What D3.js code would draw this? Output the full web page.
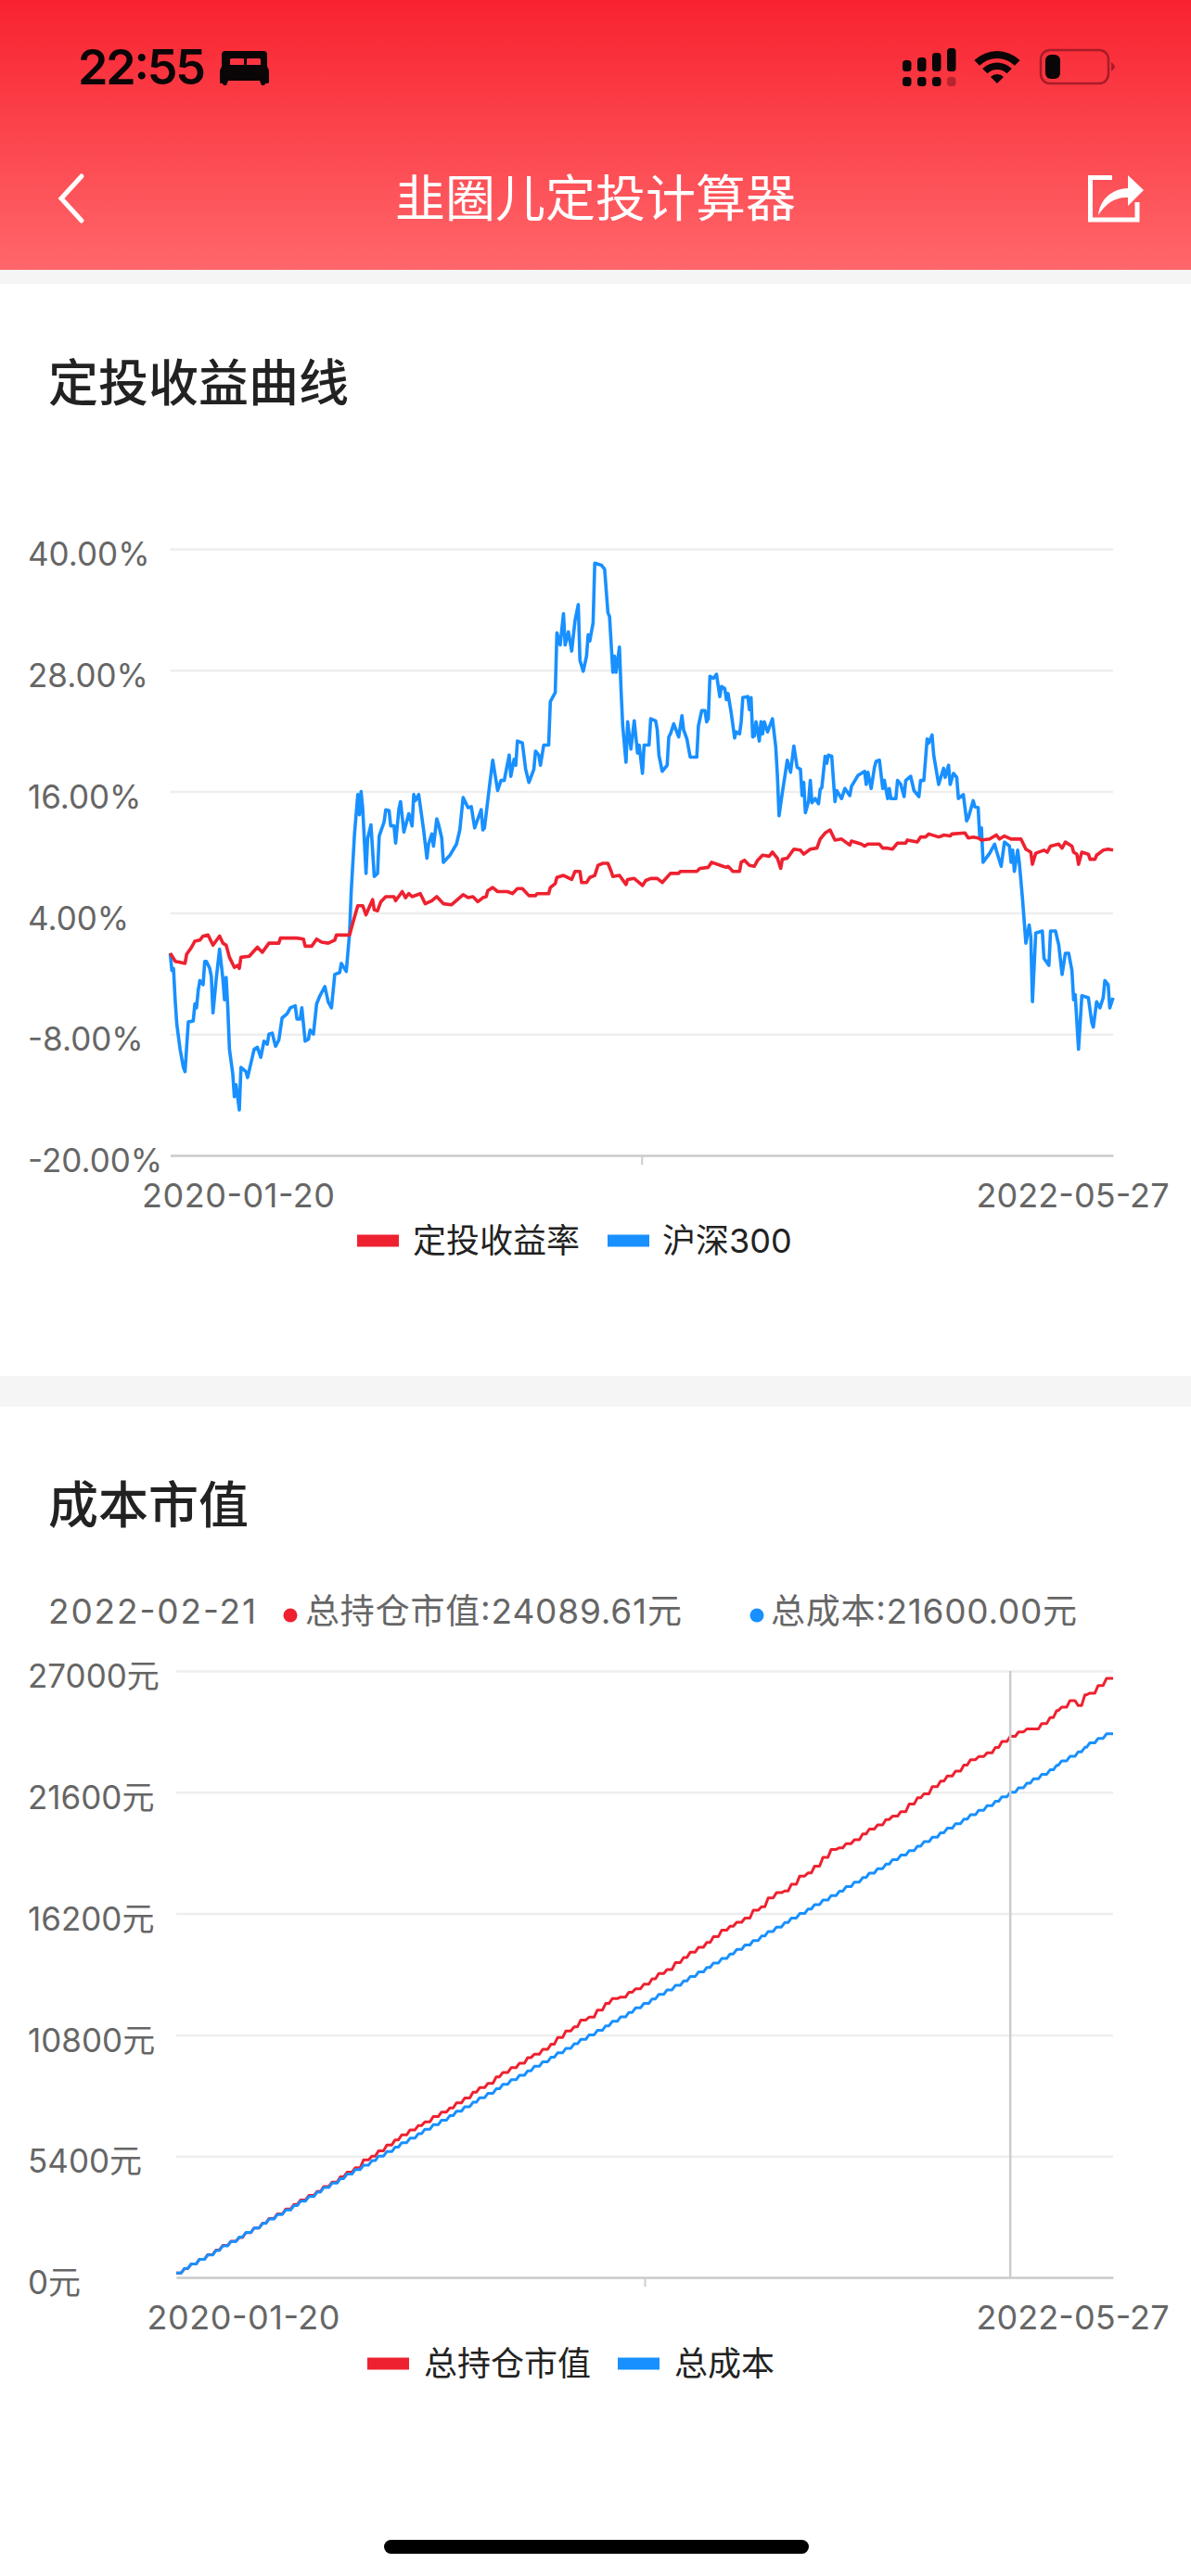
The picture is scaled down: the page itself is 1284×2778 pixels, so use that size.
<!DOCTYPE html>
<html>
<head>
<meta charset="utf-8">
<script src="https://cdn.jsdelivr.net/npm/d3@7"></script>
<style>
  html, body { margin: 0; padding: 0; background: #fff; }
  svg { display: block; font-family: "Noto Sans CJK SC", "Noto Sans", sans-serif; }
</style>
</head>
<body>
<svg id="page" width="1284" height="2778"></svg>
<script>
// top chart: trading day index and rate in percent
const returnDays = [0,2,3,6,9,10,13,15,18,20,23,26,30,32,34,36,39,41,42,43,48,53,56,60,66,67,77,81,82,86,89,92,96,100,101,109,111,114,117,119,120,123,124,126,128,131,136,137,141,143,145,147,152,155,159,162,166,171,178,181,184,187,190,192,193,196,199,205,208,211,214,218,222,223,230,231,234,235,239,244,246,249,250,253,255,258,260,263,266,268,269,273,277,278,282,287,289,292,296,299,304,309,310,320,322,327,329,336,338,339,342,346,347,349,352,355,357,360,364,366,369,371,372,375,379,383,385,389,393,395,398,401,404,408,413,414,420,422,424,431,433,436,439,442,447,448,454,456,459,461,467,469,470,474,475,483,485,488,491,493,498,502,504,507,511,517,520,523,524,526,531,533,535,540,542,544,548,549,551,552,554,558,559,562,563,567,570,573];
const returnRate = [0,-0.5,-0.8,-0.9,-1,-0.1,0.6,1.2,1.3,1.7,1.8,0.8,1.7,1,0.8,-0.4,-1.4,-1.2,-1.5,-0.4,-0.3,0.6,0.1,1,1,1.5,1.5,1.4,0.7,0.7,1.4,1.1,1,1.3,1.8,1.8,3,4.7,4.7,3.8,4.2,5.3,4.3,4.2,5.1,5.6,5.6,5.2,6.1,5.5,5.9,5.6,5.9,4.9,5.2,5.6,4.9,4.8,5.8,5.5,5.6,5.1,5.5,5.6,6.2,6.5,6.1,6.1,5.9,6.4,6.4,5.7,5.7,5.9,5.9,6.5,6.9,7.5,7.7,7.3,8.1,8.1,7,7,7.5,7.7,8.7,8.9,8.9,8.1,7.6,7.7,6.8,7.3,7.4,6.7,7.2,7.4,7.4,7,7.9,7.9,8.1,8.1,8.4,8.5,9,8.6,8.5,8.6,8.1,8.1,9,9.2,8.7,8.6,9.2,9.7,9.6,10,9.4,8.4,9.3,9.4,10.3,10.2,9.8,10.3,10.4,11.3,11.9,12.2,11.2,11.3,10.7,11.1,10.8,10.6,10.8,10.8,10.4,10.4,10.3,10.9,10.9,11.2,11,11.5,11.5,11.8,11.5,11.6,11.7,11.6,11.8,11.9,11.4,11.5,11.4,11.2,11.3,11.7,11.3,11.6,11.3,11.3,10.3,10,8.8,9.9,10.2,10,10.6,10.8,10.4,11,10.6,10,9.8,8.8,10,9.8,9.3,9.3,9.7,10.2,10.3,10.2];
const csiDays = [0,1,2,3,4,6,8,9,11,14,15,16,17,18,20,21,22,24,25,26,28,30,32,33,34,35,36,38,39,40,42,43,46,47,49,51,53,55,57,59,60,62,64,66,68,71,73,76,77,79,80,82,84,85,87,89,91,94,96,98,100,103,104,107,109,110,112,114,115,116,117,119,120,122,124,126,127,130,131,133,134,136,137,139,140,142,145,147,148,149,151,154,156,157,159,160,162,163,165,166,170,174,176,178,181,183,185,189,190,191,194,196,199,201,203,206,207,209,210,211,214,216,218,221,222,224,225,227,230,231,234,235,237,239,240,242,244,246,248,249,251,253,254,255,257,258,262,264,266,267,269,270,271,273,274,275,277,278,280,282,284,285,287,288,291,292,295,296,297,299,302,303,304,306,309,311,312,314,316,320,321,323,325,326,327,328,330,332,334,335,337,338,339,341,343,344,346,347,348,351,352,353,354,355,356,358,359,360,361,363,366,368,369,370,372,374,375,377,379,381,383,384,385,386,388,389,390,392,394,395,396,398,399,400,402,404,405,408,410,413,414,418,422,423,424,426,428,429,431,433,434,436,437,438,441,442,444,446,447,450,452,455,456,458,460,461,463,464,467,470,471,473,474,476,478,479,482,484,485,488,489,491,492,493,494,498,501,502,505,507,510,511,512,513,515,516,518,520,522,523,524,526,530,531,534,535,538,540,542,544,546,548,549,550,552,554,558,560,561,563,565,567,568,570,571,573];
const csiRate = [0,-1.7,-1.5,-4.6,-7,-9.5,-11.3,-11.7,-6.8,-6.7,-5,-5.4,-3.7,-2.7,-3.1,-0.8,-0.8,-1.5,-2.3,-5.9,-2.5,0.4,-2.5,-4.6,-2.4,-5.4,-9.5,-11.9,-14.2,-13,-15.5,-11.3,-11.7,-12.3,-10.9,-9.5,-9.3,-10.3,-8.7,-9,-8,-7.9,-9.2,-8.6,-6.4,-6,-5.4,-5.2,-6.5,-6.5,-5.4,-8.7,-8.5,-7.6,-8,-5,-4.2,-3.3,-4.8,-5.4,-2.1,-1.9,-1,-1.8,2,6.1,11.8,15.7,13.7,16,14.3,7.9,11.4,12.7,7.6,7.9,11.6,13,14.2,14.1,12.6,12.6,10.9,14.3,15,12,13.8,12.6,15.7,15.1,15.7,12.2,9.4,10.8,11.8,10.6,13.3,12.8,11.4,9,9.7,10.8,12.2,15.4,14.4,14.5,12.4,14.2,12.2,12.4,16.5,19.1,16.1,17.1,17.1,19.6,17.5,19.2,18.6,21,20.8,18.2,16.9,18.2,20,19.6,18.6,20.6,20.6,24.9,25.8,31.7,30.5,33.6,30.5,31.8,29.9,32.9,34.5,29,27.9,29.4,31.5,30.9,32.7,38.6,38.4,38,33.7,33.3,27.8,29.4,27.8,30.3,26,22.5,18.9,22.9,20.2,23,19.8,20.6,17.8,20.6,20.6,23.2,23,22.1,19.6,18,18.6,21.4,21.7,22.7,21.4,23.5,22.1,21.2,19.4,19.4,22.5,24,24,22.9,23.2,27.4,27.2,27.6,25.4,26.4,26.2,25.1,25.7,23.7,21.3,21.9,21.7,22.9,25.3,25.4,24.1,25.3,21.4,21.5,22.9,21,22.9,21.7,22.9,21.9,23.2,20.4,17.6,13.6,15.9,18,19.1,17.9,20.5,18.4,18.2,15.6,16.9,13.9,15.1,17.1,14.9,15.3,14.8,16.2,16.4,19.5,18.8,19.6,19.5,15,16.1,15.3,16.3,15.6,16.5,17.6,18,16.7,17.9,16.3,18.4,19,19.1,16.3,17.1,15.3,16.3,15.3,15.3,17.1,16.7,15.5,17.1,17.5,16.1,15.5,17.1,17.1,21.2,20.8,21.6,19.6,16.7,18.3,17.4,18.6,16.7,17.8,17.4,15.3,15.7,13.1,13.4,15.1,14.5,14.4,11.4,12.4,9,9.9,10.8,10.2,8.6,11,10.6,9,10.2,8.1,10.2,9,5.3,1,2.8,1.6,-4.8,2,2.2,-0.5,-1.2,2.2,2.2,0.8,-2.1,0,0,-1.7,-4.6,-4.1,-9.5,-4.2,-4.4,-6.8,-7.3,-4.8,-5.4,-4.4,-2.7,-3.1,-5.4,-4.4];
const returnTicks = [-20,-8,4,16,28,40];
const returnNames = ["定投收益率","沪深300"];

// bottom chart: one value for each weekly purchase
const weekDays = [0,5,9,14,19,24,28,33,38,42,47,52,56,61,66,71,75,80,85,89,94,99,103,108,113,118,122,127,132,136,141,146,150,155,160,165,169,174,179,183,188,193,197,202,207,212,216,221,226,230,235,240,244,249,254,259,263,268,273,277,282,287,291,296,301,306,310,315,320,324,329,334,338,343,348,353,357,362,367,371,376,381,385,390,395,400,404,409,414,418,423,428,432,437,442,447,451,456,461,465,470,475,479,484,489,494,498,503,508,513,517,522,527,531,534,539,544,548,551,556,561,565];
const costValues = [200,400,600,800,1000,1200,1400,1600,1800,2000,2200,2400,2600,2800,3000,3200,3400,3600,3800,4000,4200,4400,4600,4800,5000,5200,5400,5600,5800,6000,6200,6400,6600,6800,7000,7200,7400,7600,7800,8000,8200,8400,8600,8800,9000,9200,9400,9600,9800,10000,10200,10400,10600,10800,11000,11200,11400,11600,11800,12000,12200,12400,12600,12800,13000,13200,13400,13600,13800,14000,14200,14400,14600,14800,15000,15200,15400,15600,15800,16000,16200,16400,16600,16800,17000,17200,17400,17600,17800,18000,18200,18400,18600,18800,19000,19200,19400,19600,19800,20000,20200,20400,20600,20800,21000,21200,21400,21600,21800,22000,22200,22400,22600,22800,23000,23200,23400,23600,23800,24000,24200,24200];
const marketValues = [200,397,594,806,1016,1218,1421,1613,1775,1992,2200,2410,2623,2828,3045,3248,3451,3650,3827,4048,4242,4479,4683,4886,5235,5398,5632,5897,6125,6348,6566,6765,6923,7160,7364,7546,7770,7988,8245,8448,8643,8929,9125,9337,9540,9789,9936,10157,10378,10680,10975,11159,11459,11588,11902,12197,12415,12482,12697,12852,13054,13293,13532,13709,14014,14243,14485,14702,14918,15176,15464,15638,15812,15999,16350,16507,16894,17129,17206,17504,17869,18007,18310,18698,19057,19126,19314,19483,19740,19962,20147,20387,20534,20736,21071,21350,21534,21854,22097,22320,22543,22807,23051,23192,23352,23596,23861,24089.61,24285,24420,24420,24662,24928,25240,25392,25682,25459,25936,26013,26352,26668,26668];
const valueTicks = [0,5400,10800,16200,21600,27000];
const valueNames = ["总持仓市值","总成本"];
const dateLabels = ["2020-01-20","2022-05-27"];

const RED = "#ee2130", BLUE = "#1890ff", GRID = "#eeeeee", AXIS = "#cccccc", LABEL = "#666666";
const LABEL_FONT = 'Inter, "Noto Sans CJK SC"';
const svg = d3.select("#page");

// header
const defs = svg.append("defs");
const grad = defs.append("linearGradient").attr("id", "head").attr("x1", 0).attr("x2", 0).attr("y1", 0).attr("y2", 1);
grad.append("stop").attr("offset", "0%").attr("stop-color", "#f8222f");
grad.append("stop").attr("offset", "100%").attr("stop-color", "#ff676b");
svg.append("rect").attr("width", 1284).attr("height", 291).attr("fill", "url(#head)");
svg.append("rect").attr("y", 291).attr("width", 1284).attr("height", 15).attr("fill", "#f5f5f5");
svg.append("rect").attr("y", 1484).attr("width", 1284).attr("height", 33).attr("fill", "#f5f5f5");

svg.append("text").text("22:55").attr("x", 84).attr("y", 91)
  .attr("font-family", "Inter, Roboto").attr("font-size", 52).attr("font-weight", 600).attr("textLength", 138).attr("fill", "#0a0506");

// bed icon
svg.append("path").attr("fill", "#0a0506").attr("d", "M243 55h41q4 0 4 4v13q2 2 2 5v11q0 2-2 2h-2l-1 2h-3l-2-5h-34l-2 5h-3l-1-2h-2q-1 0-1-2v-11q0-3 2-5v-13q0-4 4-4z");
svg.append("path").attr("fill", "#fa3540").attr("d", "M248 70v-6q0-1 2-1h12q1 0 1 1v6zM266 70v-6q0-1 1-1h12q2 0 2 1v6z");

// signal dots and bars
const sigX = [973,989,1005,1021], sigTop = [65,62,57,52];
sigX.forEach((x, i) => {
  svg.append("rect").attr("x", x).attr("y", sigTop[i]).attr("width", 9.5).attr("height", 77 - sigTop[i]).attr("rx", 3.5).attr("fill", "#0a0506");
  svg.append("rect").attr("x", x).attr("y", 83).attr("width", 9.5).attr("height", 10).attr("rx", 3.5).attr("fill", i == 3 ? "#b8242e" : "#0a0506");
});

// wifi
const wifi = svg.append("g").attr("transform", "translate(1075,90)").attr("fill", "#0a0506");
[[27,35],[15,22.5],[0,10]].forEach(r => {
  wifi.append("path").attr("d", d3.arc()({innerRadius: r[0], outerRadius: r[1], startAngle: -0.78, endAngle: 0.78}));
});

// battery
svg.append("rect").attr("x", 1122).attr("y", 54).attr("width", 73).attr("height", 36).attr("rx", 10).attr("fill", "none").attr("stroke", "#a81c28").attr("stroke-width", 2.5);
svg.append("rect").attr("x", 1127).attr("y", 59).attr("width", 16).attr("height", 26).attr("rx", 6).attr("fill", "#0a0506");
svg.append("path").attr("d", "M1198 67q4 3 4 5t-4 5z").attr("fill", "#a81c28");

// nav bar
svg.append("path").attr("d", "M88 190L66 214L88 238").attr("fill", "none").attr("stroke", "#fff").attr("stroke-width", 5).attr("stroke-linecap", "round");
svg.append("text").text("韭圈儿定投计算器").attr("x", 642).attr("y", 234).attr("text-anchor", "middle").attr("font-size", 54).attr("fill", "#fff");
svg.append("path").attr("d", "M1199 191.500H1175.500V237H1226V218").attr("fill", "none").attr("stroke", "#fff").attr("stroke-width", 5);
svg.append("path").attr("fill", "#fff").attr("d", "M1184 232C1186 215 1198 204 1216 203L1216 189L1233 205L1216 222L1216 213C1202 212 1192 220 1184 232Z");

function sectionTitle(label, y) {
  svg.append("text").text(label).attr("x", 52).attr("y", y).attr("font-size", 54).attr("font-weight", 500).attr("fill", "#222");
}
sectionTitle("定投收益曲线", 433);
sectionTitle("成本市值", 1643);

// axes, grid and labels shared by both charts
function drawFrame(x, y, ticks, fmt, startShift) {
  const [left, right] = x.range();
  const yAxis = d3.axisLeft(y).tickValues(ticks).tickSize(left - right).tickFormat(fmt);
  const gy = svg.append("g").attr("transform", `translate(${left},0)`).call(yAxis);
  gy.select(".domain").remove();
  gy.selectAll(".tick line").attr("stroke", GRID).attr("stroke-width", 2.5);
  gy.selectAll(".tick text").attr("x", 30 - left).attr("dy", "0.36em").attr("transform", "translate(0,5)")
    .attr("text-anchor", "start").attr("font-size", 35).attr("font-family", LABEL_FONT).attr("fill", LABEL);

  const [d0, d1] = x.domain();
  const xAxis = d3.axisBottom(x).tickValues([d0, (d0 + d1) / 2, d1]).tickSize(10).tickSizeOuter(0)
    .tickFormat((d, i) => i == 0 ? dateLabels[0] : i == 2 ? dateLabels[1] : "");
  const gx = svg.append("g").attr("transform", `translate(0,${y.range()[0]})`).call(xAxis);
  gx.select(".domain").attr("stroke", AXIS).attr("stroke-width", 2.5);
  gx.selectAll(".tick line").attr("stroke", AXIS).attr("stroke-width", 2).attr("opacity", (d, i) => i == 1 ? 1 : 0);
  gx.selectAll(".tick text").attr("y", 43).attr("dy", "0.36em").attr("font-size", 36)
    .attr("font-family", LABEL_FONT).attr("fill", LABEL)
    .attr("textLength", (d, i) => i == 1 ? null : 208)
    .attr("x", (d, i) => i == 0 ? startShift : i == 2 ? 1156 - right : 0);
}

function drawLegend(names, y, swatchX, textX) {
  names.forEach((name, i) => {
    svg.append("rect").attr("x", swatchX[i]).attr("y", y - 6.5).attr("width", 45).attr("height", 13).attr("fill", i == 0 ? RED : BLUE);
    svg.append("text").text(name).attr("x", textX[i]).attr("y", y).attr("dy", "0.36em").attr("font-size", 36)
      .attr("font-family", LABEL_FONT).attr("fill", "#222");
  });
}

function drawLine(points, x, y, color, width) {
  const line = d3.line().x(d => x(d[0])).y(d => y(d[1]));
  svg.append("path").attr("d", line(points)).attr("fill", "none").attr("stroke", color)
    .attr("stroke-width", width).attr("stroke-linejoin", "round");
}

// top chart
const x1 = d3.scaleLinear().domain([0, 573]).range([183.5, 1200]);
const y1 = d3.scaleLinear().domain([-20, 40]).range([1246, 592]);
drawFrame(x1, y1, returnTicks, d => d.toFixed(2) + "%", 73);
drawLine(csiDays.map((d, i) => [d, csiRate[i]]), x1, y1, BLUE, 3.6);
drawLine(returnDays.map((d, i) => [d, returnRate[i]]), x1, y1, RED, 3.6);
drawLegend(returnNames, 1338, [385, 655], [445, 714]);

// bottom chart
const x2 = d3.scaleLinear().domain([0, 565]).range([190, 1200]);
const y2 = d3.scaleLinear().domain([0, 27000]).range([2456, 1802]);
drawFrame(x2, y2, valueTicks, d => d + "元", 72);

// each purchase rises over two trading days, flat the rest of the week
function stairs(days, values) {
  const pts = [[days[0], values[0]]];
  for (let i = 1; i < days.length; i++) {
    pts.push([days[i] - 2, values[i - 1]]);
    pts.push([days[i], values[i]]);
  }
  return pts;
}
drawLine(stairs(weekDays, marketValues), x2, y2, RED, 3);
drawLine(stairs(weekDays, costValues), x2, y2, BLUE, 3);
drawLegend(valueNames, 2549, [396, 666], [457, 727]);

// tooltip state at the selected day
const selectedDay = weekDays[costValues.indexOf(21600)];
svg.append("line").attr("x1", x2(selectedDay)).attr("x2", x2(selectedDay)).attr("y1", y2(27000)).attr("y2", y2(0))
  .attr("stroke", AXIS).attr("stroke-width", 2.5);
const tipY = 1738;
svg.append("text").text("2022-02-21").attr("x", 52).attr("y", tipY).attr("dy", "0.36em").attr("font-size", 37).attr("font-family", LABEL_FONT).attr("textLength", 224).attr("fill", LABEL);
svg.append("circle").attr("cx", 313).attr("cy", tipY + 4).attr("r", 7.5).attr("fill", RED);
svg.append("text").text(valueNames[0] + ":" + marketValues[costValues.indexOf(21600)].toFixed(2) + "元").attr("x", 329).attr("y", tipY).attr("dy", "0.36em").attr("font-size", 37).attr("font-family", LABEL_FONT).attr("textLength", 406).attr("fill", LABEL);
svg.append("circle").attr("cx", 816).attr("cy", tipY + 4).attr("r", 7.5).attr("fill", BLUE);
svg.append("text").text(valueNames[1] + ":" + (21600).toFixed(2) + "元").attr("x", 831).attr("y", tipY).attr("dy", "0.36em").attr("font-size", 37).attr("font-family", LABEL_FONT).attr("textLength", 330).attr("fill", LABEL);

// home indicator
svg.append("rect").attr("x", 414).attr("y", 2739).attr("width", 458).attr("height", 15).attr("rx", 7.5).attr("fill", "#000");
</script>
</body>
</html>
